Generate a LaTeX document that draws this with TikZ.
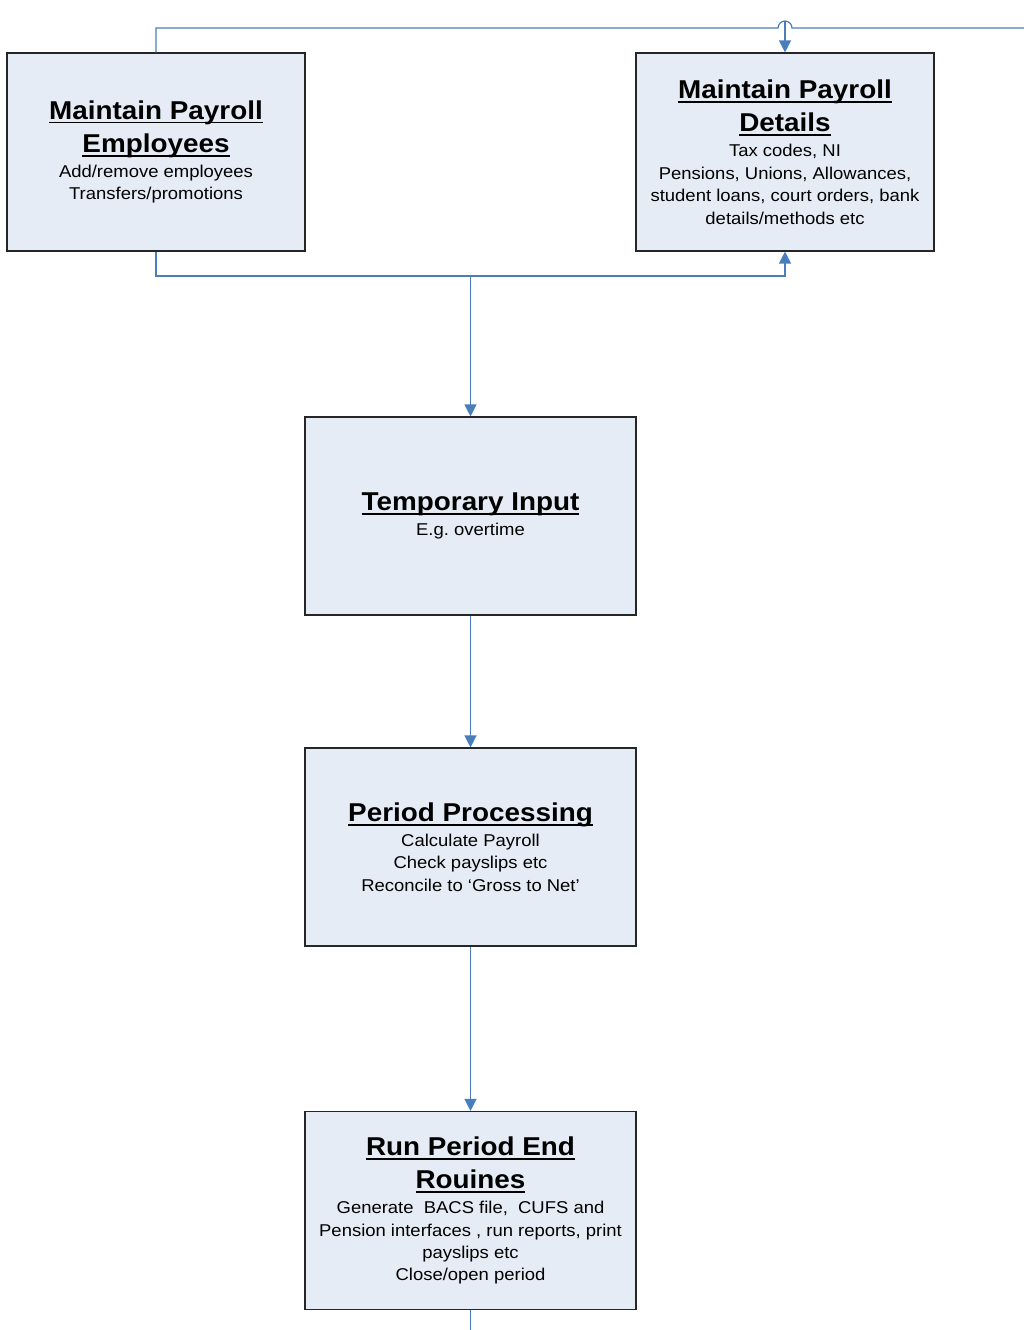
\documentclass[tikz,border=0pt]{standalone}
\usepackage{fontspec}
\setmainfont{Liberation Sans}
\newfontfamily\ttlfam{Liberation Sans}[FakeStretch=1.08]
\newfontfamily\bodyfam{Liberation Sans}[FakeStretch=1.08]
\usetikzlibrary{arrows.meta}
\definecolor{conn}{RGB}{74,126,187}
\definecolor{boxfill}{RGB}{230,236,246}
\newsavebox\ttlbox
\newcommand\ttl[1]{\leavevmode\sbox\ttlbox{#1}\rlap{\rule[-4.3pt]{\wd\ttlbox}{1.8pt}}\usebox\ttlbox}
\newcommand\ttlfont{\ttlfam\bfseries\fontsize{25.8}{33.5}\selectfont\spaceskip=7.7pt\relax}
\newcommand\bodyfont{\bodyfam\fontsize{17.1}{22.4}\selectfont\spaceskip=5.1pt\relax}
\tikzset{
  procbox/.style={draw=black!85, line width=1.1pt, fill=boxfill,
    minimum width=#1, minimum height=198pt, inner sep=0pt,
    text width=#1-10pt, align=center},
  link/.style={draw=conn, line width=1.2pt},
  linkarrow/.style={link, -{Triangle[length=12pt,width=12pt]}}
}
\begin{document}
\begin{tikzpicture}[x=1pt,y=-1pt]
\useasboundingbox (0,0) rectangle (1024,1330);

\node[procbox=298pt] (emp) at (156,152)
  {{\ttlfont\ttl{Maintain Payroll}\\\ttl{Employees}\par}\vspace{2.5pt}%
   {\bodyfont Add/remove employees\\Transfers/promotions\par}};
\node[procbox=298pt] (det) at (785,152)
  {{\ttlfont\ttl{Maintain Payroll}\\\ttl{Details}\par}\vspace{2.5pt}%
   {\bodyfont Tax codes, NI\\Pensions, Unions, Allowances,\\student loans, court orders, bank\\details/methods etc\par}};
\node[procbox=331pt] (temp) at (470.5,516)
  {{\ttlfont\ttl{Temporary Input}\par}\vspace{2.5pt}%
   {\bodyfont E.g. overtime\par}};
\node[procbox=331pt] (period) at (470.5,847)
  {{\ttlfont\ttl{Period Processing}\par}\vspace{2.5pt}%
   {\bodyfont Calculate Payroll\\Check payslips etc\\Reconcile to ‘Gross to Net’\par}};
\node[procbox=331pt] (run) at (470.5,1210.5)
  {{\ttlfont\ttl{Run Period End}\\\ttl{Rouines}\par}\vspace{2.5pt}%
   {\bodyfont Generate\ \ BACS file,\ \ CUFS and\\Pension interfaces , run reports, print\\payslips etc\\Close/open period\par}};

\coordinate (topright) at (1024,28);
\coordinate (topin) at (785,21);
\coordinate (botout) at (470.5,1330);
\coordinate (split) at (470.5,276);

% top connector with line hop
\draw[link] (emp.north) -- (156,28) -- (778,28) arc (180:360:7) -- (topright);
\draw[linkarrow] (topin) -- (det.north);

% bottom connector from employees to details, with branch to temporary input
\draw[linkarrow] (emp.south) -- (156,276) -- (785,276) -- (det.south);
\draw[linkarrow] (split) -- (temp.north);
\draw[linkarrow] (temp.south) -- (period.north);
\draw[linkarrow] (period.south) -- (run.north);
\draw[link] (run.south) -- (botout);
\end{tikzpicture}
\end{document}
